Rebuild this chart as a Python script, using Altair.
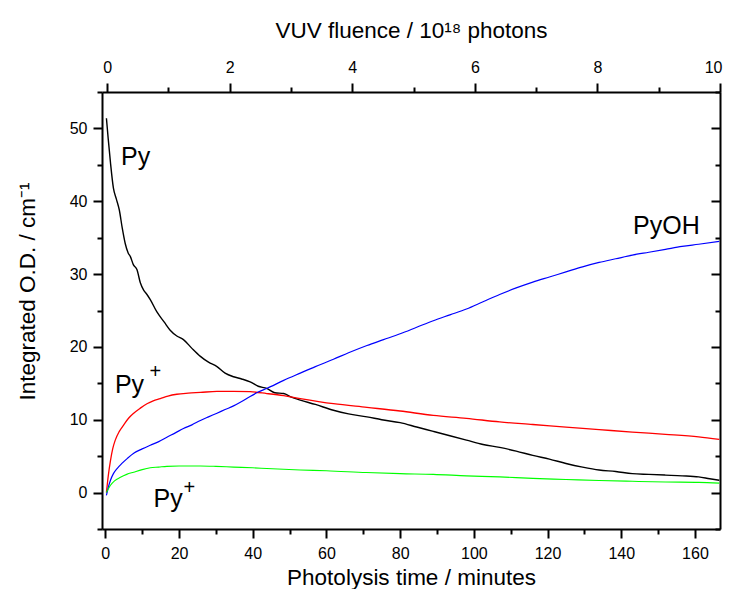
import altair as alt
import pandas as pd

FONT = "Liberation Sans"

# ---- data ----
t_py = [0.3, 0.8, 1.4, 2.2, 3.0, 3.8, 4.6, 5.4, 6.2, 6.8, 7.6, 8.6, 9.5, 10.4, 11.3, 12.2, 14, 16, 17.6, 19.4,
        21.2, 23.5, 25.8, 28, 30.3, 32.5, 34.8, 37, 39.3, 41.5, 43.8, 46, 48.4, 50.5, 52.9, 57, 61.9, 66, 71, 75,
        80, 84.5, 89, 93.5, 98, 102.5, 107, 111.5, 116, 120.5, 125, 129.5, 134, 138.5, 143, 147.5, 152, 156.5,
        161, 164, 166.6]
v_py = [51.4, 48.5, 45.3, 41.8, 40.3, 38.8, 36.3, 34.2, 32.9, 32.4, 31.3, 30.6, 28.8, 27.8, 27.2, 26.5, 24.8,
        23.4, 22.3, 21.5, 21.0, 19.8, 18.7, 17.9, 17.3, 16.4, 15.9, 15.6, 15.2, 14.6, 14.3, 13.7, 13.6, 13.1,
        12.7, 12.1, 11.3, 10.8, 10.4, 10.0, 9.6, 9.0, 8.4, 7.8, 7.2, 6.6, 6.2, 5.7, 5.1, 4.6, 4.0, 3.5, 3.1,
        2.9, 2.6, 2.5, 2.4, 2.3, 2.15, 1.9, 1.7]

t_red = [0.3, 0.8, 1.4, 2.0, 2.7, 3.8, 5.0, 6.3, 7.7, 9.5, 11.3, 13, 14.9, 17, 19.4, 22.5, 25.8, 30.3, 34.8,
         39.3, 43.8, 48.4, 52.9, 61.9, 71, 80, 89, 98, 107, 116, 125, 134, 143, 152, 161, 166.6]
v_red = [0.0, 2.3, 4.4, 6.0, 7.2, 8.4, 9.3, 10.2, 10.9, 11.6, 12.2, 12.6, 12.9, 13.25, 13.5, 13.65, 13.75,
         13.9, 13.9, 13.85, 13.6, 13.3, 12.9, 12.2, 11.7, 11.2, 10.6, 10.2, 9.7, 9.35, 9.0, 8.65, 8.3, 8.0,
         7.65, 7.3]

t_oh = [0.3, 0.8, 1.4, 2.2, 3.2, 4.5, 6, 7.7, 10, 12.2, 14.5, 16.7, 19, 21.2, 23.5, 25.8, 28, 30.3, 32.5,
        34.8, 37, 39.3, 41.5, 43.8, 48.4, 52.9, 57, 61.9, 66, 71, 75.5, 80, 84.5, 89, 93.5, 98, 102.5, 107,
        111.5, 116, 120.5, 125, 129.5, 134, 138.5, 143, 147.5, 152, 156.5, 161, 166.6]
v_oh = [-0.4, 0.7, 1.7, 2.6, 3.3, 4.0, 4.7, 5.4, 6.0, 6.5, 7.0, 7.6, 8.2, 8.8, 9.3, 9.9, 10.4, 10.9, 11.4,
        11.9, 12.5, 13.2, 13.8, 14.3, 15.4, 16.4, 17.3, 18.3, 19.2, 20.2, 21.0, 21.8, 22.7, 23.6, 24.4, 25.2,
        26.2, 27.2, 28.1, 28.9, 29.6, 30.3, 31.0, 31.6, 32.1, 32.6, 33.0, 33.4, 33.8, 34.1, 34.5]

t_grn = [0.3, 0.8, 1.4, 2.5, 4.1, 5.8, 7.7, 10, 12.2, 14.5, 16.7, 20, 25.8, 30, 34.8, 40, 43.8, 52.9, 60,
         70.8, 80, 89, 98, 107, 116, 125, 134, 143, 152, 161, 166.6]
v_grn = [0.0, 0.5, 1.0, 1.6, 2.1, 2.5, 2.8, 3.15, 3.4, 3.5, 3.6, 3.65, 3.65, 3.6, 3.5, 3.4, 3.3, 3.1, 3.0,
         2.75, 2.6, 2.5, 2.3, 2.15, 1.95, 1.8, 1.65, 1.55, 1.45, 1.4, 1.3]

series_names = ["Py", "Py+ red", "PyOH", "Py+ green"]
series_colors = ["#000000", "#ff0000", "#0000ff", "#00ff00"]
series_widths = [1.4, 1.1, 1.1, 1.1]

x_ticks = [0, 10, 20, 30, 40, 50, 60, 70, 80, 90, 100, 110, 120, 130, 140, 150, 160]
y_ticks = [-5, 0, 5, 10, 15, 20, 25, 30, 35, 40, 45, 50, 55]
f_ticks = [0, 1, 2, 3, 4, 5, 6, 7, 8, 9, 10]

lab_text = ["Py", "Py", "PyOH", "Py"]
lab_t = [4.25, 2.6, 143.2, 13.1]
lab_v = [45.0, 13.7, 35.5, -1.98]
sup_text = ["+", "+"]
sup_t = [13.6, 22.8]
sup_v = [16.5, 0.66]

# ---- tables ----
frames = []
for name, ts, vs in zip(series_names, [t_py, t_red, t_oh, t_grn], [v_py, v_red, v_oh, v_grn]):
    frames.append(pd.DataFrame({"t": ts, "v": vs, "s": name}))
df = pd.concat(frames, ignore_index=True)
df_lab = pd.DataFrame({"t": lab_t, "v": lab_v, "label": lab_text})
df_sup = pd.DataFrame({"t": sup_t, "v": sup_v, "label": sup_text})
df_f = pd.DataFrame({"f": f_ticks})
df_r = pd.DataFrame({"r": y_ticks})

MAJOR, MINOR = 9, 5
tick_x = {"condition": {"test": "datum.value % 20 === 0", "value": MAJOR}, "value": MINOR}
tick_y = {"condition": {"test": "datum.value % 10 === 0", "value": MAJOR}, "value": MINOR}
tick_f = {"condition": {"test": "datum.value % 2 === 0", "value": MAJOR}, "value": MINOR}

axis_common = dict(grid=False, domainColor="black", domainWidth=2, tickColor="black", tickWidth=2,
                   labelFont=FONT, labelFontSize=16, labelColor="black",
                   labelOverlap=False, titleFont=FONT, titleFontSize=22.5, titleFontWeight="normal",
                   titleColor="black")

X_ENC = alt.X("t:Q",
              scale=alt.Scale(domain=[-0.9, 166.8], nice=False, zero=False),
              axis=alt.Axis(orient="bottom", values=x_ticks, tickSize=tick_x, labelFlush=False,
                            labelExpr="datum.value % 20 === 0 ? datum.label : ''",
                            labelPadding=7, title="Photolysis time / minutes",
                            titleY=55, titleBaseline="alphabetic", **axis_common))
Y_ENC = alt.Y("v:Q",
              scale=alt.Scale(domain=[-5, 55], nice=False, zero=False),
              axis=alt.Axis(orient="left", values=y_ticks, tickSize=tick_y, labelFlush=False,
                            labelExpr="(datum.value % 10 === 0 && datum.value >= 0 && datum.value <= 50) ? datum.label : ''",
                            labelPadding=6, title="Integrated O.D. / cm\u207b\u00b9",
                            titleAngle=270, titleX=-68, titleY=199, titleBaseline="alphabetic",
                            titleAlign="center", **axis_common))

lines = alt.Chart(df).mark_line(interpolate="monotone").encode(
    x=X_ENC, y=Y_ENC,
    color=alt.Color("s:N", scale=alt.Scale(domain=series_names, range=series_colors), legend=None),
    strokeWidth=alt.StrokeWidth("s:N", scale=alt.Scale(domain=series_names, range=series_widths),
                                legend=None),
    order=alt.Order("t:Q"),
)

labels = alt.Chart(df_lab).mark_text(font=FONT, fontSize=25, align="left", baseline="alphabetic",
                                     color="black").encode(x=X_ENC, y=Y_ENC, text="label:N")
sups = alt.Chart(df_sup).mark_text(font=FONT, fontSize=20, align="center", baseline="middle",
                                   color="black").encode(x=X_ENC, y=Y_ENC, text="label:N")

main = alt.layer(lines, labels, sups)

top_axis = alt.Chart(df_f).mark_point(opacity=0).encode(
    x=alt.X("f:Q", scale=alt.Scale(domain=[-0.085, 10.0], nice=False, zero=False),
            axis=alt.Axis(orient="top", values=f_ticks, tickSize=tick_f,
                          labelFlush=True, labelFlushOffset=2,
                          labelExpr="datum.value % 2 === 0 ? datum.label : ''",
                          labelPadding=8, title="VUV fluence / 10\u00b9\u2078 photons",
                          titleY=-55, titleBaseline="alphabetic", **axis_common))
)

right_axis = alt.Chart(df_r).mark_point(opacity=0).encode(
    y=alt.Y("r:Q", scale=alt.Scale(domain=[-5, 55], nice=False, zero=False),
            axis=alt.Axis(orient="left", offset=-618, values=y_ticks, tickSize=tick_y,
                          labels=False, title=None, **{k: v for k, v in axis_common.items()
                                                       if not k.startswith("title")}))
)

chart = alt.layer(main, top_axis, right_axis).resolve_scale(
    x="independent", y="independent"
).properties(
    width=618, height=437,
    autosize=alt.AutoSizeParams(type="none"),
    padding={"left": 94, "top": 84, "right": 3, "bottom": 60},
    background="white",
).configure_view(stroke=None)

chart.save("out.html", embed_options={"renderer": "svg", "actions": False})
